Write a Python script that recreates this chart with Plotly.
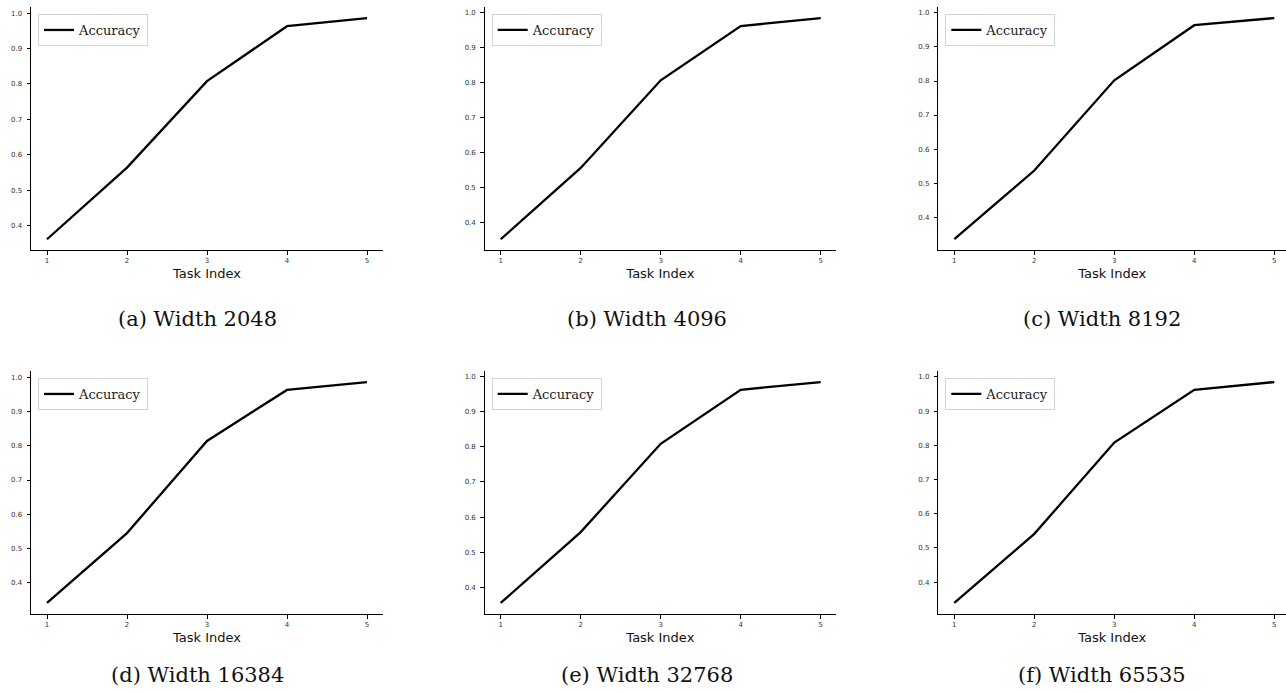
import plotly.graph_objects as go

task_index = [1, 2, 3, 4, 5]
acc_2048 = [0.362, 0.564, 0.808, 0.963, 0.986]
acc_4096 = [0.352, 0.556, 0.807, 0.962, 0.985]
acc_8192 = [0.335, 0.537, 0.802, 0.964, 0.985]
acc_16384 = [0.341, 0.545, 0.814, 0.963, 0.986]
acc_32768 = [0.355, 0.557, 0.809, 0.963, 0.985]
acc_65535 = [0.339, 0.541, 0.808, 0.962, 0.985]
captions = ["(a) Width 2048", "(b) Width 4096", "(c) Width 8192",
            "(d) Width 16384", "(e) Width 32768", "(f) Width 65535"]
series = [acc_2048, acc_4096, acc_8192, acc_16384, acc_32768, acc_65535]
y_ticks = [0.4, 0.5, 0.6, 0.7, 0.8, 0.9, 1.0]

W, H = 1286, 691
col_px = [(31, 383), (484.7, 836), (938.3, 1286)]
row_px = [(7, 250.3), (371, 614)]
cap_x = [198, 647, 1102]
cap_y = [319, 675]
px_per_unit = 80.0

fig = go.Figure()
layout = dict(width=W, height=H, margin=dict(l=0, r=0, t=0, b=0),
              paper_bgcolor="white", plot_bgcolor="white", showlegend=True)
annotations = []
for i, (vals, cap) in enumerate(zip(series, captions)):
    r, c = divmod(i, 3)
    n = i + 1
    xa = "x" if n == 1 else f"x{n}"
    ya = "y" if n == 1 else f"y{n}"
    lg = "legend" if n == 1 else f"legend{n}"
    fig.add_trace(go.Scatter(x=task_index, y=vals, mode="lines", name="Accuracy",
                             line=dict(color="black", width=2.3),
                             xaxis=xa, yaxis=ya, legend=lg, showlegend=True))
    x0, x1 = col_px[c]
    y0, y1 = row_px[r]
    vmin, vmax = min(vals), max(vals)
    span = vmax - vmin
    xr = [0.8, 0.8 + (x1 - x0) / px_per_unit]
    axis_common = dict(showline=True, linecolor="black", linewidth=1,
                       ticks="outside", ticklen=3.5, tickwidth=0.8, tickcolor="black",
                       showgrid=False, zeroline=False,
                       tickfont=dict(family="DejaVu Sans", size=7, color="#333"))
    layout["xaxis" if n == 1 else f"xaxis{n}"] = dict(
        domain=[x0 / W, x1 / W], range=xr, anchor=ya,
        tickvals=task_index, ticktext=[str(t) for t in task_index],
        title=dict(text="Task Index", standoff=4,
                   font=dict(family="DejaVu Sans", size=13, color="#111")),
        **axis_common)
    layout["yaxis" if n == 1 else f"yaxis{n}"] = dict(
        domain=[1 - y1 / H, 1 - y0 / H],
        range=[vmin - 0.05 * span, vmax + 0.05 * span], anchor=xa,
        tickvals=y_ticks, ticktext=[f"{v:.1f}" for v in y_ticks],
        ticklabelstandoff=3,
        **axis_common)
    layout[lg] = dict(x=(x0 + 7) / W, y=1 - (y0 + 7) / H, xanchor="left", yanchor="top",
                      bgcolor="white", bordercolor="#d4d4d4", borderwidth=1,
                      font=dict(family="DejaVu Serif", size=13, color="#222"),
                      itemwidth=30, tracegroupgap=0)
    annotations.append(dict(text=cap, x=cap_x[c] / W, y=1 - cap_y[r] / H,
                            xref="paper", yref="paper", showarrow=False,
                            xanchor="center", yanchor="middle",
                            font=dict(family="DejaVu Serif", size=21, color="#111")))
layout["annotations"] = annotations
fig.update_layout(**layout)
fig.write_html("out.html", config={"displayModeBar": False},
               post_script="document.body.style.margin='0';document.body.style.overflow='hidden';")
